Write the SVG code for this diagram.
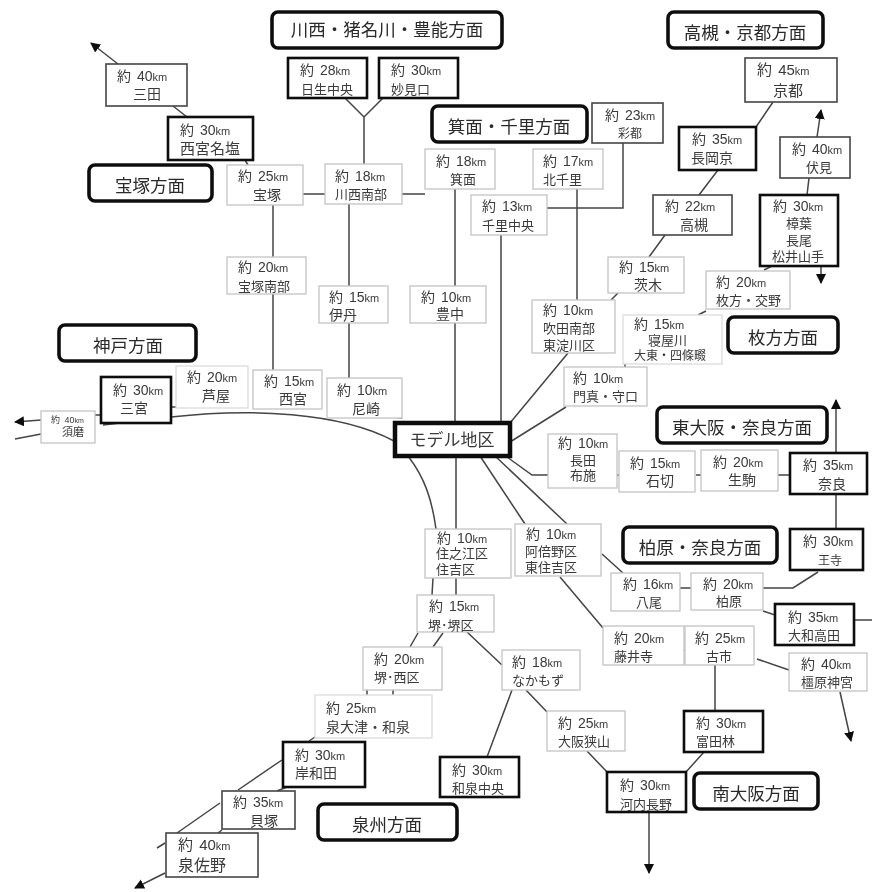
<svg xmlns="http://www.w3.org/2000/svg" width="872" height="892" viewBox="0 0 872 892">
<style>
text{font-family:"Liberation Sans","Noto Sans CJK JP",sans-serif;fill:#3a3a3a;font-size:13px;word-spacing:2px}
.u{font-size:11px}
.s14{font-size:14px}.s15{font-size:15px}.s16{font-size:16px}.s12{font-size:12px}
rect{fill:#fff}
.t{stroke:#111;stroke-width:2.6}
.m{stroke:#444;stroke-width:1.6}
.l{stroke:#c4c4c4;stroke-width:1.3}
.x{stroke:#dcdcdc;stroke-width:1.3}
.h{fill:#fff;stroke:#111;stroke-width:3.6}
.ht{font-size:17.5px;text-anchor:middle;fill:#2a2a2a}
.c{fill:none;stroke:#444;stroke-width:1.5}
.a{marker-end:url(#arr)}
</style>
<defs>
<marker id="arr" markerUnits="userSpaceOnUse" markerWidth="11" markerHeight="11" refX="9" refY="5" orient="auto"><path d="M0 0L10 5L0 10Z" fill="#111"/></marker>
<filter id="soft" x="-2%" y="-2%" width="104%" height="104%"><feGaussianBlur stdDeviation="0.5"/></filter>
</defs>
<g filter="url(#soft)">
<g id="connectors">
<path class="c a" d="M118 64L91 43"/>
<path class="c" d="M173 106L187 117M245 160L248 165M303 194H325M402 194H425M345 98L364 117L383 98M364 117V164"/>
<path class="c" d="M349 204V286M349 323V378M273 205V257M273 293V370M455 189V421M456 456V529M456 578V595"/>
<path class="c" d="M501 235V421M547 208H623V143M577 189V300M568 353L510 423M566 407L510 442"/>
<path class="c" d="M618 293L611 300M665 235L649 257M718 170L699 195M773 102L756 127M809 178L807 195M772 266L764 270M706 311L698 315M625 364V367"/>
<path class="c a" d="M817 137L821 110"/>
<path class="c a" d="M821 266V283"/>
<path class="c a" d="M836 453V400"/>
<path class="c" d="M836 494V529M763 588H793L818 572M763 611L775 615M854 620H872M757 659L789 670M617 475H619M696 475H701M778 475H790M680 588H691"/>
<path class="c a" d="M840 692L851 741"/>
<path class="c" d="M682 650H685M715 665V711M704 752L686 772M587 751L607 772M526 690L547 712M512 690L487 757M467 632L502 665"/>
<path class="c a" d="M649 812V873"/>
<path class="c" d="M418 633L410 647M443 633L433 647M367 690V695M393 690V695M315 737L309 741M282 760L238 790M287 787L277 791M220 803L177 833M222 830L218 833M165 843L157 848"/>
<path class="c a" d="M165 873L135 888"/>
<path class="c" d="M394 441C340 412 250 408 171 417M120 423L103 425M171 407H176M393 417L402 418M95 415H100"/>
<path class="c a" d="M41 420L15 422"/>
<path class="c" d="M41 434L15 439M408 456C425 478 432 500 436 529M433 578L432 595M480 456L525 524M495 456L567 524M507 457L532 475H548M602 554L623 573M560 577L603 628"/>
</g>
<g id="h1"><rect class="h" x="272" y="12" width="230" height="36" rx="6"/><text class="ht" x="387" y="36">川西・猪名川・豊能方面</text></g>
<g id="h2"><rect class="h" x="668" y="12" width="155" height="36" rx="6"/><text class="ht" x="745" y="39">高槻・京都方面</text></g>
<g id="h3"><rect class="h" x="432" y="106" width="155" height="36" rx="6"/><text class="ht" x="509" y="133">箕面・千里方面</text></g>
<g id="h4"><rect class="h" x="89" y="165" width="123" height="36" rx="6"/><text class="ht" x="150" y="192">宝塚方面</text></g>
<g id="h5"><rect class="h" x="59" y="325" width="137" height="36" rx="6"/><text class="ht" x="128" y="352">神戸方面</text></g>
<g id="h6"><rect class="h" x="728" y="317" width="110" height="36" rx="6"/><text class="ht" x="783" y="344">枚方方面</text></g>
<g id="h7"><rect class="h" x="657" y="407" width="170" height="36" rx="6"/><text class="ht" x="742" y="434">東大阪・奈良方面</text></g>
<g id="h8"><rect class="h" x="623" y="527" width="154" height="36" rx="6"/><text class="ht" x="700" y="554">柏原・奈良方面</text></g>
<g id="h9"><rect class="h" x="694" y="773" width="124" height="36" rx="6"/><text class="ht" x="756" y="800">南大阪方面</text></g>
<g id="h10"><rect class="h" x="318" y="804" width="139" height="36" rx="6"/><text class="ht" x="387" y="831">泉州方面</text></g>
<g id="model"><rect fill="#fff" stroke="#111" stroke-width="4.5" x="395" y="423" width="115" height="33"/><text x="452" y="446" style="font-size:17px;text-anchor:middle">モデル地区</text></g>
<g id="n1"><rect class="m" x="106" y="64" width="81" height="42"/><text class="s14" x="117" y="81">約 40<tspan class="u">km</tspan></text><text class="s14" x="133" y="99">三田</text></g>
<g id="n2"><rect class="t" x="168" y="117" width="85" height="43"/><text class="s14" x="180" y="135">約 30<tspan class="u">km</tspan></text><text class="s15" x="180" y="154">西宮名塩</text></g>
<g id="n3"><rect class="l" x="227" y="165" width="76" height="40"/><text class="s14" x="238" y="181">約 25<tspan class="u">km</tspan></text><text class="s14" x="253" y="200">宝塚</text></g>
<g id="n4"><rect class="l" x="325" y="164" width="77" height="40"/><text class="s14" x="335" y="181">約 18<tspan class="u">km</tspan></text><text x="335" y="199">川西南部</text></g>
<g id="n5"><rect class="t" x="288" y="58" width="79" height="40"/><text class="s14" x="300" y="75">約 28<tspan class="u">km</tspan></text><text x="301" y="94">日生中央</text></g>
<g id="n6"><rect class="t" x="379" y="58" width="79" height="40"/><text class="s14" x="391" y="75">約 30<tspan class="u">km</tspan></text><text x="391" y="94">妙見口</text></g>
<g id="n7"><rect class="l" x="425" y="149" width="70" height="40"/><text class="s14" x="436" y="166">約 18<tspan class="u">km</tspan></text><text x="450" y="184">箕面</text></g>
<g id="n8"><rect class="l" x="533" y="149" width="70" height="40"/><text class="s14" x="543" y="166">約 17<tspan class="u">km</tspan></text><text x="543" y="184">北千里</text></g>
<g id="n9"><rect class="m" x="592" y="103" width="71" height="40"/><text class="s14" x="605" y="120">約 23<tspan class="u">km</tspan></text><text class="s12" x="618" y="138">彩都</text></g>
<g id="n10"><rect class="l" x="471" y="195" width="76" height="40"/><text class="s14" x="482" y="211">約 13<tspan class="u">km</tspan></text><text x="482" y="230">千里中央</text></g>
<g id="n11"><rect class="l" x="227" y="257" width="79" height="37"/><text class="s14" x="238" y="272">約 20<tspan class="u">km</tspan></text><text x="238" y="291">宝塚南部</text></g>
<g id="n12"><rect class="l" x="319" y="286" width="69" height="37"/><text class="s14" x="329" y="302">約 15<tspan class="u">km</tspan></text><text class="s14" x="329" y="320">伊丹</text></g>
<g id="n13"><rect class="l" x="410" y="286" width="76" height="37"/><text class="s14" x="421" y="302">約 10<tspan class="u">km</tspan></text><text class="s14" x="436" y="319">豊中</text></g>
<g id="n14"><rect class="l" x="532" y="300" width="83" height="53"/><text class="s14" x="543" y="315">約 10<tspan class="u">km</tspan></text><text x="543" y="333">吹田南部</text><text x="543" y="350">東淀川区</text></g>
<g id="n15"><rect class="l" x="327" y="378" width="75" height="40"/><text class="s14" x="337" y="395">約 10<tspan class="u">km</tspan></text><text class="s14" x="352" y="414">尼崎</text></g>
<g id="n16"><rect class="l" x="253" y="370" width="69" height="39"/><text class="s14" x="264" y="386">約 15<tspan class="u">km</tspan></text><text class="s14" x="279" y="404">西宮</text></g>
<g id="n17"><rect class="x" x="176" y="366" width="72" height="42"/><text class="s14" x="187" y="382">約 20<tspan class="u">km</tspan></text><text class="s14" x="202" y="401">芦屋</text></g>
<g id="n18"><rect class="t" x="101" y="377" width="70" height="46"/><text class="s14" x="113" y="395">約 30<tspan class="u">km</tspan></text><text class="s14" x="120" y="413">三宮</text></g>
<g id="n19"><rect class="l" x="41" y="411" width="54" height="32"/><text style="font-size:9px" x="51" y="423">約 40<tspan style="font-size:7px">km</tspan></text><text style="font-size:11px" x="62" y="436">須磨</text></g>
<g id="n20"><rect class="m" x="745" y="58" width="92" height="44"/><text class="s15" x="757" y="75">約 45<tspan class="u">km</tspan></text><text class="s15" x="773" y="96">京都</text></g>
<g id="n21"><rect class="t" x="679" y="127" width="77" height="43"/><text class="s14" x="692" y="144">約 35<tspan class="u">km</tspan></text><text class="s14" x="691" y="163">長岡京</text></g>
<g id="n22"><rect class="m" x="653" y="195" width="79" height="40"/><text class="s14" x="665" y="211">約 22<tspan class="u">km</tspan></text><text class="s14" x="680" y="230">高槻</text></g>
<g id="n23"><rect class="l" x="608" y="257" width="76" height="36"/><text class="s14" x="619" y="272">約 15<tspan class="u">km</tspan></text><text class="s14" x="634" y="290">茨木</text></g>
<g id="n24"><rect class="m" x="780" y="137" width="70" height="41"/><text class="s14" x="792" y="154">約 40<tspan class="u">km</tspan></text><text x="806" y="172">伏見</text></g>
<g id="n25"><rect class="t" x="760" y="195" width="78" height="71"/><text class="s14" x="773" y="211">約 30<tspan class="u">km</tspan></text><text x="786" y="228">樟葉</text><text x="786" y="245">長尾</text><text x="772" y="261">松井山手</text></g>
<g id="n26"><rect class="l" x="706" y="271" width="84" height="38"/><text class="s14" x="716" y="287">約 20<tspan class="u">km</tspan></text><text x="716" y="305">枚方・交野</text></g>
<g id="n27"><rect class="x" x="623" y="315" width="99" height="49"/><text class="s14" x="634" y="329">約 15<tspan class="u">km</tspan></text><text x="648" y="345">寝屋川</text><text class="s12" x="634" y="360">大東・四條畷</text></g>
<g id="n28"><rect class="l" x="564" y="367" width="83" height="39"/><text class="s14" x="573" y="383">約 10<tspan class="u">km</tspan></text><text x="573" y="401">門真・守口</text></g>
<g id="n29"><rect class="l" x="548" y="434" width="69" height="54"/><text class="s14" x="558" y="448">約 10<tspan class="u">km</tspan></text><text x="570" y="465">長田</text><text x="570" y="480">布施</text></g>
<g id="n30"><rect class="l" x="619" y="451" width="76" height="41"/><text class="s14" x="630" y="468">約 15<tspan class="u">km</tspan></text><text class="s14" x="646" y="486">石切</text></g>
<g id="n31"><rect class="l" x="701" y="450" width="77" height="41"/><text class="s14" x="713" y="467">約 20<tspan class="u">km</tspan></text><text class="s14" x="728" y="485">生駒</text></g>
<g id="n32"><rect class="t" x="790" y="453" width="77" height="41"/><text class="s14" x="803" y="470">約 35<tspan class="u">km</tspan></text><text class="s14" x="818" y="489">奈良</text></g>
<g id="n33"><rect class="t" x="790" y="529" width="73" height="41"/><text class="s14" x="803" y="546">約 30<tspan class="u">km</tspan></text><text class="s12" x="818" y="565">王寺</text></g>
<g id="n34"><rect class="l" x="691" y="573" width="72" height="37"/><text class="s14" x="703" y="589">約 20<tspan class="u">km</tspan></text><text x="716" y="606">柏原</text></g>
<g id="n35"><rect class="l" x="611" y="573" width="69" height="38"/><text class="s14" x="623" y="589">約 16<tspan class="u">km</tspan></text><text x="636" y="607">八尾</text></g>
<g id="n36"><rect class="t" x="775" y="604" width="79" height="41"/><text class="s14" x="788" y="622">約 35<tspan class="u">km</tspan></text><text x="788" y="640">大和高田</text></g>
<g id="n37"><rect class="l" x="789" y="653" width="78" height="38"/><text class="s14" x="801" y="669">約 40<tspan class="u">km</tspan></text><text x="801" y="687">橿原神宮</text></g>
<g id="n38"><rect class="l" x="685" y="626" width="69" height="39"/><text class="s14" x="695" y="643">約 25<tspan class="u">km</tspan></text><text x="706" y="661">古市</text></g>
<g id="n39"><rect class="l" x="603" y="626" width="81" height="39"/><text class="s14" x="614" y="643">約 20<tspan class="u">km</tspan></text><text x="614" y="661">藤井寺</text></g>
<g id="n40"><rect class="l" x="515" y="524" width="86" height="52"/><text class="s14" x="526" y="539">約 10<tspan class="u">km</tspan></text><text x="525" y="556">阿倍野区</text><text x="525" y="572">東住吉区</text></g>
<g id="n41"><rect class="l" x="425" y="529" width="86" height="49"/><text class="s14" x="437" y="543">約 10<tspan class="u">km</tspan></text><text x="436" y="558">住之江区</text><text x="436" y="574">住吉区</text></g>
<g id="n42"><rect class="l" x="417" y="595" width="77" height="37"/><text class="s14" x="429" y="611">約 15<tspan class="u">km</tspan></text><text x="428" y="630">堺･堺区</text></g>
<g id="n43"><rect class="l" x="363" y="647" width="79" height="43"/><text class="s14" x="374" y="664">約 20<tspan class="u">km</tspan></text><text x="374" y="682">堺･西区</text></g>
<g id="n44"><rect class="x" x="315" y="695" width="117" height="43"/><text class="s14" x="326" y="713">約 25<tspan class="u">km</tspan></text><text class="s14" x="326" y="732">泉大津・和泉</text></g>
<g id="n45"><rect class="t" x="283" y="742" width="82" height="45"/><text class="s14" x="295" y="760">約 30<tspan class="u">km</tspan></text><text class="s14" x="295" y="778">岸和田</text></g>
<g id="n46"><rect class="m" x="222" y="791" width="73" height="38"/><text class="s14" x="233" y="807">約 35<tspan class="u">km</tspan></text><text class="s14" x="250" y="826">貝塚</text></g>
<g id="n47"><rect class="m" x="166" y="833" width="92" height="44"/><text class="s15" x="178" y="850">約 40<tspan class="u">km</tspan></text><text class="s16" x="178" y="871">泉佐野</text></g>
<g id="n48"><rect class="l" x="502" y="650" width="78" height="40"/><text class="s14" x="512" y="667">約 18<tspan class="u">km</tspan></text><text x="512" y="685">なかもず</text></g>
<g id="n49"><rect class="l" x="547" y="711" width="78" height="40"/><text class="s14" x="558" y="728">約 25<tspan class="u">km</tspan></text><text x="558" y="746">大阪狭山</text></g>
<g id="n50"><rect class="t" x="440" y="757" width="79" height="40"/><text class="s14" x="452" y="775">約 30<tspan class="u">km</tspan></text><text x="452" y="793">和泉中央</text></g>
<g id="n51"><rect class="t" x="607" y="772" width="79" height="40"/><text class="s14" x="620" y="790">約 30<tspan class="u">km</tspan></text><text x="620" y="809">河内長野</text></g>
<g id="n52"><rect class="t" x="684" y="711" width="79" height="41"/><text class="s14" x="696" y="728">約 30<tspan class="u">km</tspan></text><text x="696" y="746">富田林</text></g>
</g>
</svg>
